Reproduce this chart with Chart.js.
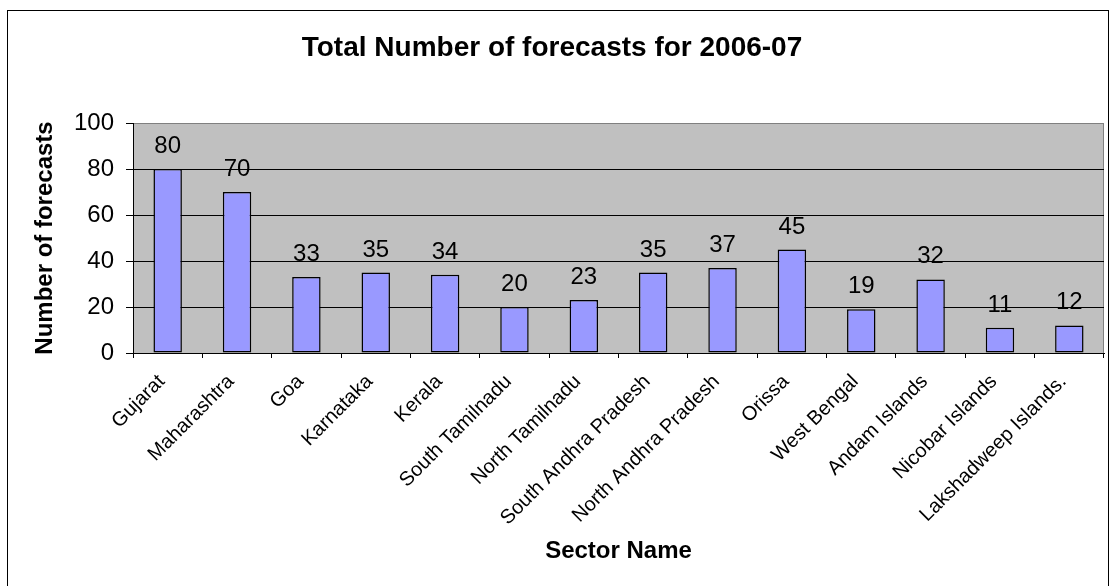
<!DOCTYPE html>
<html>
<head>
<meta charset="utf-8">
<title>Total Number of forecasts for 2006-07</title>
<script src="https://cdn.jsdelivr.net/npm/chart.js@4"></script>
<style>
  html, body { margin: 0; padding: 0; background: #fff; }
  #wrap { width: 1110px; height: 586px; position: relative; }
</style>
</head>
<body>
<div id="wrap"><canvas id="myChart" width="1110" height="586"></canvas></div>
<script>
/********************* data *********************/
const sectors = ['Gujarat', 'Maharashtra', 'Goa', 'Karnataka', 'Kerala', 'South Tamilnadu',
  'North Tamilnadu', 'South Andhra Pradesh', 'North Andhra Pradesh', 'Orissa', 'West Bengal',
  'Andam Islands', 'Nicobar Islands', 'Lakshadweep Islands.'];
const forecasts = [80, 70, 33, 35, 34, 20, 23, 35, 37, 45, 19, 32, 11, 12];
const yTicks = [0, 20, 40, 60, 80, 100];

const fontFam = '"Liberation Sans", Arial, sans-serif';

/********************* plugins *********************/
// fond gris de la zone de tracé + cadre extérieur
const background = {
  id: 'background',
  beforeDraw(chart) {
    const c = chart.ctx;
    const a = chart.chartArea;
    c.save();
    c.fillStyle = '#fff';
    c.fillRect(0, 0, chart.width, chart.height);
    c.fillStyle = '#C0C0C0';
    c.fillRect(a.left, a.top, a.right - a.left, a.bottom - a.top);
    c.strokeStyle = '#808080';
    c.lineWidth = 1;
    c.strokeRect(a.left + 0.5, a.top + 0.5, a.right - a.left - 1, a.bottom - a.top);
    c.strokeStyle = '#000';
    c.strokeRect(7.5, 10.5, 1101, 600);
    c.restore();
  }
};

// valeurs au-dessus des barres
const valueLabels = {
  id: 'valueLabels',
  afterDatasetsDraw(chart) {
    const c = chart.ctx;
    c.save();
    c.font = '24px ' + fontFam;
    c.fillStyle = '#000';
    c.textAlign = 'center';
    c.textBaseline = 'alphabetic';
    chart.getDatasetMeta(0).data.forEach((bar, i) => {
      c.fillText(forecasts[i], bar.x, bar.y - 16);
    });
    c.restore();
  }
};

/********************* chart *********************/
const ctx = document.getElementById('myChart');
const myChart = new Chart(ctx, {
  type: 'bar',
  data: {
    labels: sectors,
    datasets: [{
      label: 'Number of forecasts',
      data: forecasts,
      backgroundColor: '#9999FF',
      borderColor: '#000',
      borderWidth: 1.5,
      borderSkipped: false,
      barPercentage: 0.41,
      categoryPercentage: 1
    }]
  },
  options: {
    responsive: false,
    animation: false,
    layout: { padding: { left: 0, right: 6, top: 0, bottom: 0 } },
    plugins: {
      legend: { display: false },
      tooltip: { enabled: false },
      title: {
        display: true,
        text: 'Total Number of forecasts for 2006-07',
        color: '#000',
        font: { family: fontFam, size: 28, weight: 'bold', lineHeight: 1.2 },
        padding: { top: 31.2, bottom: 58.2 }
      }
    },
    scales: {
      x: {
        grid: {
          display: true,
          drawOnChartArea: false,
          drawTicks: true,
          tickLength: 5,
          color: '#000',
          offset: true
        },
        border: { color: '#000', width: 1 },
        ticks: {
          color: '#000',
          font: { family: fontFam, size: 20 },
          maxRotation: 45,
          minRotation: 45,
          padding: 12,
          labelOffset: -6,
          autoSkip: false
        },
        title: {
          display: true,
          text: 'Sector Name',
          color: '#000',
          font: { family: fontFam, size: 24, weight: 'bold', lineHeight: 1.2 },
          padding: { top: 0, bottom: 20 }
        },
        afterFit(scale) { scale.height = 233; }
      },
      y: {
        min: 0,
        max: 100,
        afterBuildTicks(scale) { scale.ticks = yTicks.map(v => ({ value: v })); },
        grid: {
          color: ctx => ctx.tick && ctx.tick.value === 100 ? '#808080' : '#000',
          lineWidth: 1,
          tickLength: 7,
          tickColor: '#000'
        },
        border: { color: '#000', width: 1 },
        ticks: {
          color: '#000',
          font: { family: fontFam, size: 24 },
          padding: 12
        },
        title: {
          display: true,
          text: 'Number of forecasts',
          color: '#000',
          font: { family: fontFam, size: 24, weight: 'bold', lineHeight: 1.2 },
          padding: { top: 31, bottom: 0 }
        },
        afterFit(scale) { scale.width = 133; }
      }
    }
  },
  plugins: [background, valueLabels]
});
</script>
</body>
</html>
